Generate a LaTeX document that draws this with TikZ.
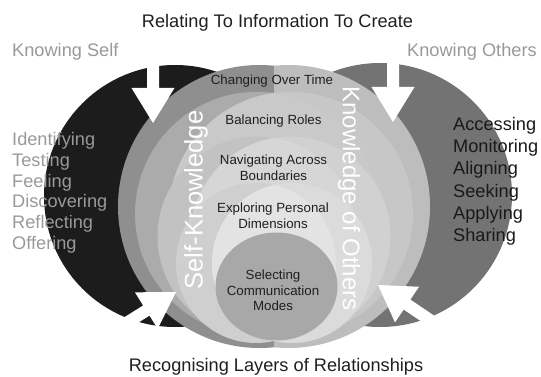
\documentclass[tikz,border=0pt]{standalone}
\usepackage{fontspec}
\setmainfont{Liberation Sans}
% shades of the two circle families
\definecolor{selfdark}{gray}{0.11}
\definecolor{othergrey}{gray}{0.45}
\definecolor{selfone}{gray}{0.56}
\definecolor{otherone}{gray}{0.74}
\definecolor{selftwo}{gray}{0.67}
\definecolor{othertwo}{gray}{0.78}
\definecolor{lenstwo}{gray}{0.79}
\definecolor{selfthree}{gray}{0.76}
\definecolor{otherthree}{gray}{0.82}
\definecolor{lensthree}{gray}{0.84}
\definecolor{selffour}{gray}{0.81}
\definecolor{otherfour}{gray}{0.86}
\definecolor{lensfour}{gray}{0.89}
\definecolor{modegrey}{gray}{0.66}

% white block arrow, tip at #1, pointing at angle #2
\newcommand\whitearrow[2]{%
  \fill[white, shift={#1}, rotate=#2] (0,0) -- (-35,21.5) -- (-35,6) -- (-66,6)
    -- (-66,-6) -- (-35,-6) -- (-35,-21.5) -- cycle;}

\begin{document}
\begin{tikzpicture}[x=1pt,y=-1pt]
\tikzset{
  heading/.style={font=\fontsize{18.2}{20}\selectfont, text=black!88, inner sep=0pt},
  side/.style={font=\fontsize{18.2}{20}\selectfont, text=black!40, inner sep=0pt, anchor=base west},
  layer/.style={font=\fontsize{13.3}{15.5}\selectfont, text=black!88, inner sep=0pt, align=center, anchor=north},
  ring/.style={text=white, font=\fontsize{25.5}{28}\selectfont, inner sep=0pt}
}
\useasboundingbox (0,0) rectangle (541,377);

% the two outer circles
\fill[selfdark] (175,196) circle [radius=131];
\fill[othergrey] (380,195) circle [radius=132];

% outer band, split in the middle
\fill[selfone] (259.5,206.5) circle [radius=141.5];
\begin{scope}
  \clip (274,0) rectangle (541,377);
  \fill[otherone] (288.5,206.5) circle [radius=141.5];
\end{scope}

% inner bands: left circle, right circle, and their overlap
\foreach \off/\cy/\rad/\lcol/\rcol/\mcol in {
    17/213.8/122/selftwo/othertwo/lenstwo,
    16.5/236.6/100/selfthree/otherthree/lensthree,
    18/263/80/selffour/otherfour/lensfour}{
  \fill[\lcol] ({274-\off},\cy) circle [radius=\rad];
  \fill[\rcol] ({274+\off},\cy) circle [radius=\rad];
  \begin{scope}
    \clip ({274-\off},\cy) circle [radius=\rad];
    \fill[\mcol] ({274+\off},\cy) circle [radius=\rad];
  \end{scope}
}

% innermost layer
\fill[modegrey] (276.5,286.5) ellipse [x radius=61, y radius=54];

% arrows
\whitearrow{(153,123)}{-90}
\whitearrow{(393,122)}{-90}
\whitearrow{(176,292)}{32}
\whitearrow{(378,285)}{146}

% titles
\node[heading, anchor=base] (create) at (277.5,28) {Relating To Information To Create};
\node[heading, anchor=base] (layers) at (276,371) {Recognising Layers of Relationships};
\node[side] (knowself) at (12,57) {Knowing Self};
\node[side] (knowothers) at (407,57) {Knowing Others};

\foreach \w [count=\i] in {Identifying,Testing,Feeling,Discovering,Reflecting,Offering}
  \node[side] (self\i) at (12,{146+20.6*(\i-1)}) {\w};
\foreach \w [count=\i] in {Accessing,Monitoring,Aligning,Seeking,Applying,Sharing}
  \node[side, text=black!90] (other\i) at (453,{131+22*(\i-1)}) {\w};

% layers
\node[layer] (changing) at (272,75) {Changing Over Time};
\node[layer] (balancing) at (273.5,115) {Balancing Roles};
\node[layer] (navigating) at (273.5,155) {Navigating Across\\Boundaries};
\node[layer] (exploring) at (273,203) {Exploring Personal\\Dimensions};
\node[layer] (selecting) at (273,270) {Selecting\\Communication\\Modes};

\node[ring, rotate=90] (selfknowledge) at (196,200) {Self-Knowledge};
\node[ring, rotate=-90, font=\fontsize{24}{26}\selectfont] (otherknowledge) at (349,198.5) {Knowledge of Others};
\end{tikzpicture}
\end{document}
